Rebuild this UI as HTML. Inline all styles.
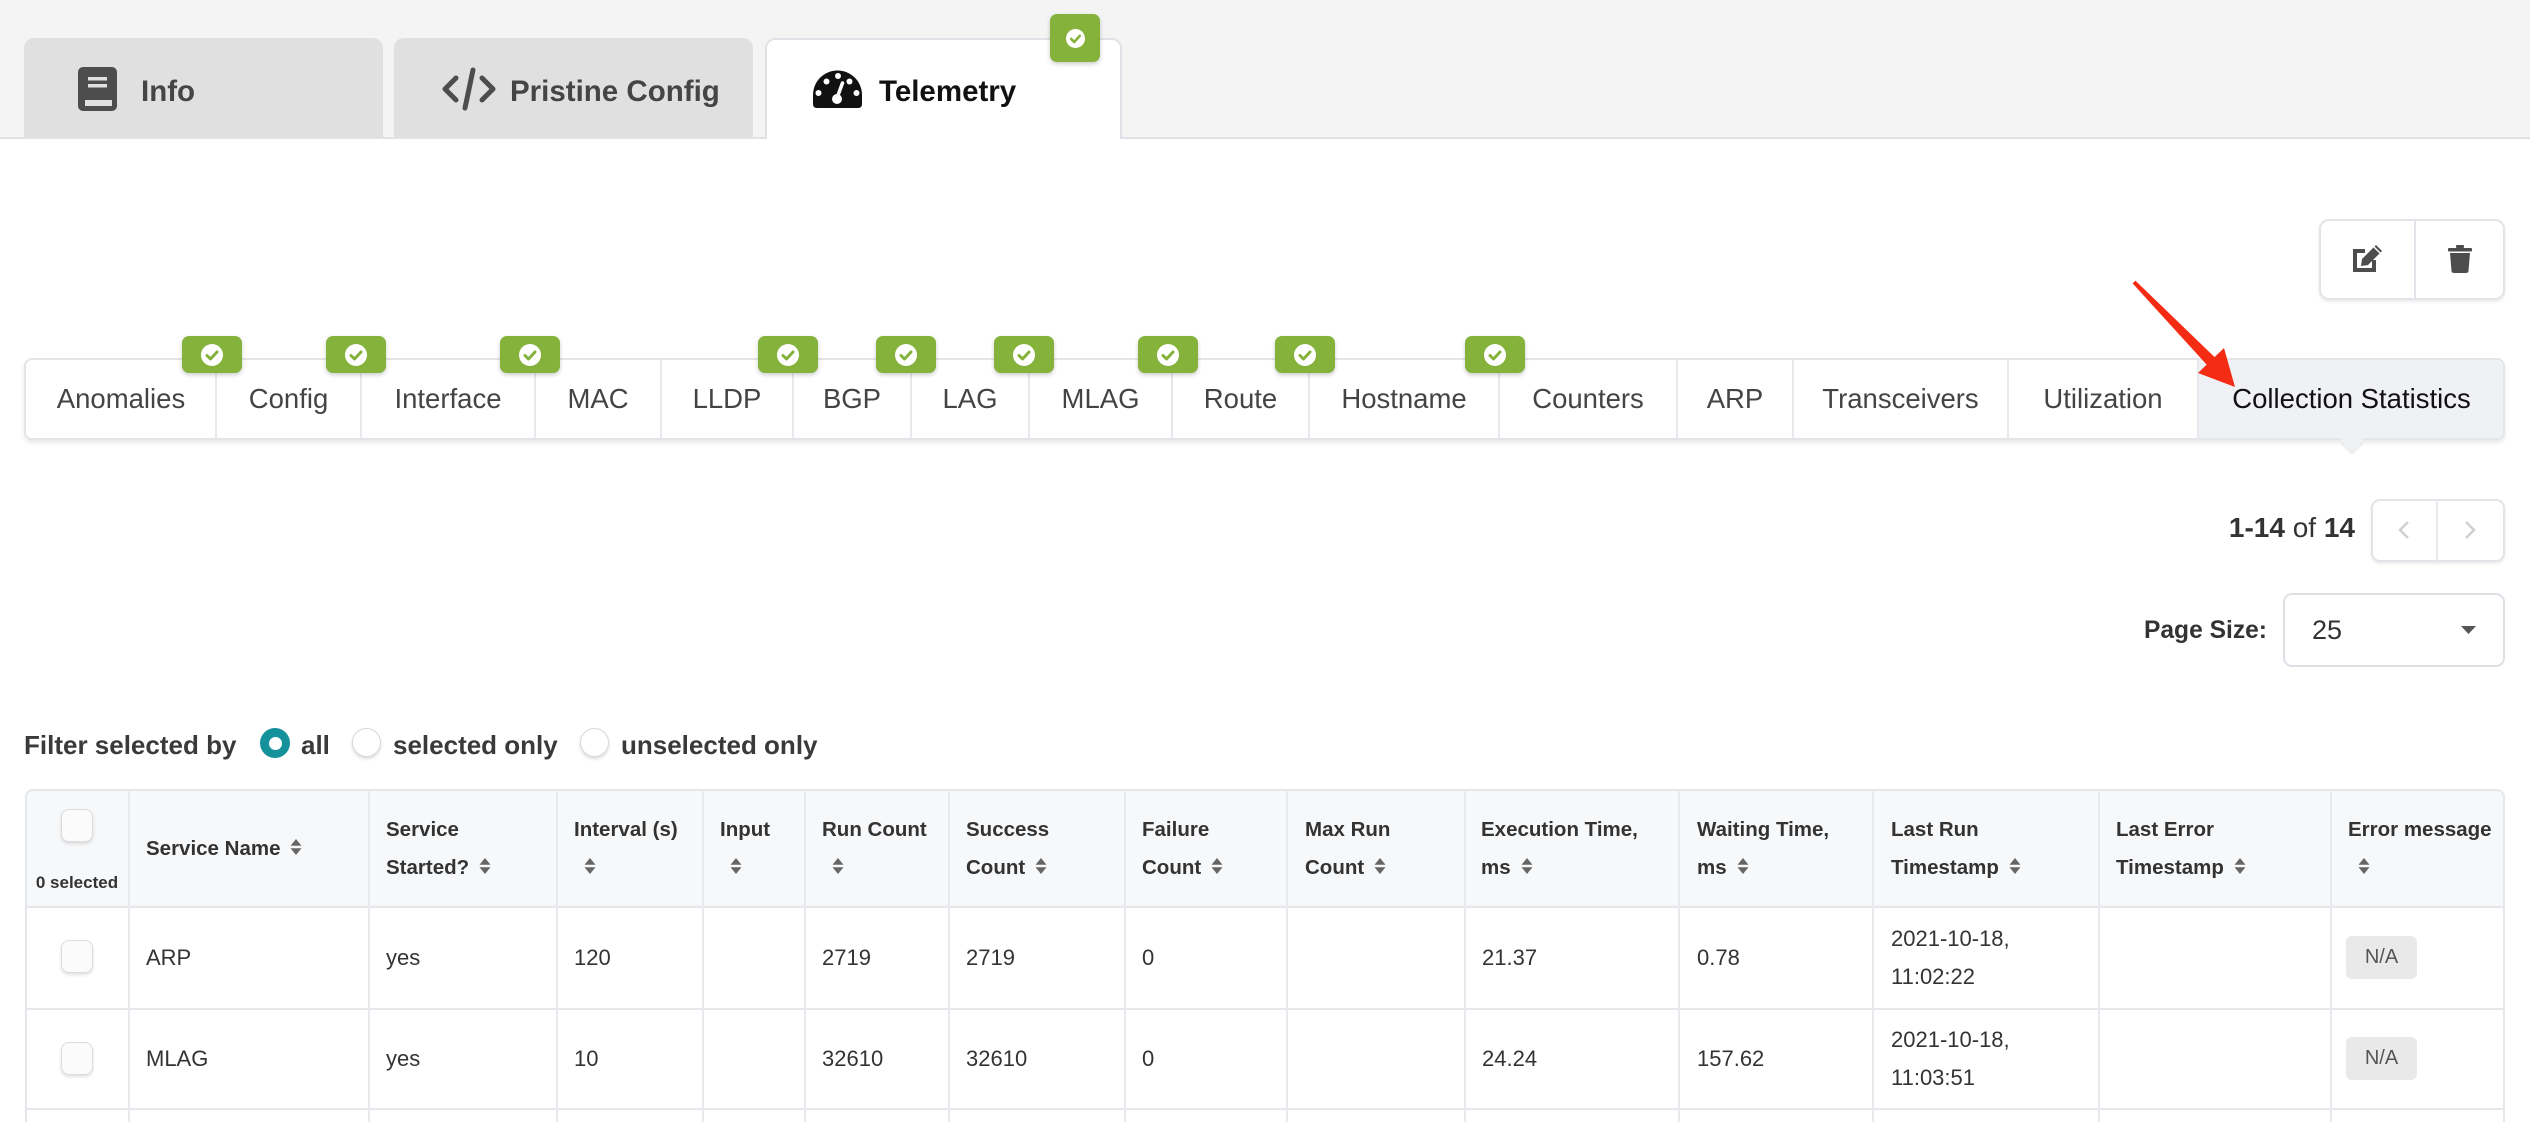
<!DOCTYPE html>
<html><head><meta charset="utf-8">
<style>
*{box-sizing:border-box;margin:0;padding:0}
body{width:2530px;height:1122px;overflow:hidden;background:#fff;position:relative;font-family:"Liberation Sans",Arial,sans-serif;color:#333}
.a{position:absolute}
.t{position:absolute;white-space:nowrap}
.tt{font-size:29.5px;line-height:29.5px;font-weight:bold;top:77px;color:#454545}
.st{position:absolute;top:385px;font-size:27.5px;line-height:27.5px;text-align:center;color:#444;white-space:nowrap}
.dv{position:absolute;top:360px;width:2px;height:79px;background:#e6e8ec}
.bd{position:absolute;top:336px;width:60px;height:37px;background:#85b23a;border-radius:7px;box-shadow:0 2px 4px rgba(0,0,0,.2);z-index:3}
.bd svg{position:absolute;left:19px;top:7.5px}
.cd{position:absolute;top:790px;width:2px;height:332px;background:#e9eaed}
.hl{position:absolute;left:25px;width:2480px;height:2px;background:#e5e7ea}
.h{position:absolute;top:811px;font-size:20.5px;line-height:38px;font-weight:bold;color:#333;white-space:nowrap}
.h svg{margin-left:10px;vertical-align:0}
.c{position:absolute;font-size:22px;line-height:22px;color:#333;white-space:nowrap}
.c2{position:absolute;font-size:22px;line-height:38px;color:#333;white-space:nowrap}
.cb{position:absolute;left:61px;width:32px;height:33px;border:1.5px solid #dcdcdc;border-radius:8px;background:#fbfbfb;box-shadow:0 2px 3px rgba(0,0,0,.12)}
.na{position:absolute;left:2346px;width:71px;height:43px;background:#e9e9e9;border-radius:6px;font-size:20px;line-height:43px;text-align:center;color:#555}
.rd{position:absolute;top:728px;width:29px;height:29px;border-radius:50%;border:1.5px solid #dadada;background:#fff;box-shadow:0 2px 3px rgba(0,0,0,.14)}
.ft{position:absolute;top:732px;font-size:26px;line-height:26px;font-weight:bold;color:#3a3a3a;white-space:nowrap}
</style></head><body>

<!-- top area -->
<div class="a" style="left:0;top:0;width:2530px;height:137px;background:#f4f4f4"></div>
<div class="a" style="left:0;top:137px;width:2530px;height:2px;background:#dfe2e6"></div>

<div class="a" style="left:24px;top:38px;width:359px;height:99px;background:#e0e0e0;border-radius:10px 10px 0 0"></div>
<div class="a" style="left:394px;top:38px;width:359px;height:99px;background:#e0e0e0;border-radius:10px 10px 0 0"></div>
<div class="a" style="left:765px;top:38px;width:357px;height:101px;background:#fff;border:2px solid #dfe2e6;border-bottom:none;border-radius:10px 10px 0 0"></div>

<!-- book icon -->
<svg class="a" style="left:78px;top:67px" width="39" height="44" viewBox="0 0 39 44">
<rect x="0" y="0" width="39" height="44" rx="5" fill="#4d4d4d"/>
<rect x="10" y="10" width="19" height="3.5" fill="#e0e0e0"/>
<rect x="10" y="17" width="19" height="3.5" fill="#e0e0e0"/>
<rect x="7" y="33" width="27" height="6" fill="#e0e0e0"/>
</svg>
<div class="t tt" style="left:141px">Info</div>

<!-- code icon -->
<svg class="a" style="left:442px;top:67px" width="54" height="44" viewBox="0 0 54 44">
<polyline points="14,11 3,22 14,33" stroke="#4d4d4d" stroke-width="5" fill="none" stroke-linecap="round" stroke-linejoin="round"/>
<polyline points="40,11 51,22 40,33" stroke="#4d4d4d" stroke-width="5" fill="none" stroke-linecap="round" stroke-linejoin="round"/>
<line x1="31" y1="3" x2="23" y2="41" stroke="#4d4d4d" stroke-width="5" stroke-linecap="round"/>
</svg>
<div class="t tt" style="left:510px">Pristine Config</div>

<!-- gauge icon -->
<svg class="a" style="left:813px;top:70px" width="49" height="38" viewBox="0 0 49 38">
<path d="M4,38 Q0,38 0,34 L0,25 A24.5,24.5 0 0 1 49,25 L49,34 Q49,38 45,38 Z" fill="#111"/>
<circle cx="5.5" cy="23" r="3" fill="#fff"/>
<circle cx="13.5" cy="11.5" r="3" fill="#fff"/>
<circle cx="25" cy="6" r="3" fill="#fff"/>
<circle cx="36.5" cy="11.5" r="3" fill="#fff"/>
<circle cx="43.5" cy="23" r="3" fill="#fff"/>
<line x1="24" y1="28" x2="29.5" y2="13" stroke="#fff" stroke-width="3.5" stroke-linecap="round"/>
<circle cx="24" cy="29" r="5" fill="#fff"/>
</svg>
<div class="t tt" style="left:879px;color:#111">Telemetry</div>

<div class="a" style="left:1050px;top:14px;width:50px;height:48px;background:#85b23a;border-radius:7px;box-shadow:0 2px 5px rgba(0,0,0,.2)">
<svg style="position:absolute;left:15.5px;top:14.5px" width="19" height="19" viewBox="0 0 22 22"><circle cx="11" cy="11" r="11" fill="#fff"/><path d="M6 11.5l3.5 3.5 6.5-7" stroke="#85b23a" stroke-width="3" fill="none" stroke-linecap="round" stroke-linejoin="round"/></svg>
</div>

<!-- edit/delete -->
<div class="a" style="left:2319px;top:219px;width:186px;height:81px;border:2px solid #e1e4e8;border-radius:10px;background:#fff;box-shadow:0 2px 3px rgba(0,0,0,.08)"></div>
<div class="a" style="left:2414px;top:220px;width:2px;height:79px;background:#e1e4e8"></div>
<svg class="a" style="left:2352px;top:245px" width="32" height="28" viewBox="0 0 32 28">
<path d="M13,6 H3 V25 H22 V15" stroke="#4d4d4d" stroke-width="4" fill="none"/>
<path d="M10,14 L24,0 L30,6 L16,20 L9,21 Z" fill="#4d4d4d"/>
<path d="M22,2 L28,8" stroke="#fff" stroke-width="1.5"/>
</svg>
<svg class="a" style="left:2448px;top:245px" width="24" height="28" viewBox="0 0 24 28">
<rect x="8" y="0" width="8" height="3" rx="1" fill="#4d4d4d"/>
<rect x="0" y="3" width="24" height="3.5" rx="1" fill="#4d4d4d"/>
<path d="M2,8 H22 L20.5,26 Q20.3,28 18,28 H6 Q3.7,28 3.5,26 Z" fill="#4d4d4d"/>
</svg>

<!-- sub-tab bar -->
<div class="a" style="left:24px;top:358px;width:2481px;height:82px;border:2px solid #e3e5e9;border-radius:8px;background:#fff;box-shadow:0 3px 4px rgba(0,0,0,.09)"></div>
<div class="a" style="left:2199px;top:360px;width:304px;height:78px;background:#f0f1f5;border-radius:0 6px 6px 0"></div>
<div class="a" style="left:2344px;top:433px;width:16px;height:16px;background:#f0f1f5;transform:rotate(45deg);box-shadow:2px 2px 2px rgba(0,0,0,.08)"></div>
<div class="a" style="left:2340px;top:430px;width:24px;height:9px;background:#f0f1f5"></div>

<div class="dv" style="left:215px"></div>
<div class="dv" style="left:360px"></div>
<div class="dv" style="left:534px"></div>
<div class="dv" style="left:660px"></div>
<div class="dv" style="left:792px"></div>
<div class="dv" style="left:910px"></div>
<div class="dv" style="left:1028px"></div>
<div class="dv" style="left:1171px"></div>
<div class="dv" style="left:1308px"></div>
<div class="dv" style="left:1498px"></div>
<div class="dv" style="left:1676px"></div>
<div class="dv" style="left:1792px"></div>
<div class="dv" style="left:2007px"></div>
<div class="dv" style="left:2197px"></div>

<div class="st" style="left:26px;width:190px">Anomalies</div>
<div class="st" style="left:216px;width:145px">Config</div>
<div class="st" style="left:361px;width:174px">Interface</div>
<div class="st" style="left:535px;width:126px">MAC</div>
<div class="st" style="left:661px;width:132px">LLDP</div>
<div class="st" style="left:793px;width:118px">BGP</div>
<div class="st" style="left:911px;width:118px">LAG</div>
<div class="st" style="left:1029px;width:143px">MLAG</div>
<div class="st" style="left:1172px;width:137px">Route</div>
<div class="st" style="left:1309px;width:190px">Hostname</div>
<div class="st" style="left:1499px;width:178px">Counters</div>
<div class="st" style="left:1677px;width:116px">ARP</div>
<div class="st" style="left:1793px;width:215px">Transceivers</div>
<div class="st" style="left:2008px;width:190px">Utilization</div>
<div class="st" style="left:2198px;width:307px;color:#111">Collection Statistics</div>

<div class="bd" style="left:182px"><svg width="22" height="22" viewBox="0 0 22 22"><circle cx="11" cy="11" r="11" fill="#fff"/><path d="M6 11.5l3.5 3.5 6.5-7" stroke="#85b23a" stroke-width="3" fill="none" stroke-linecap="round" stroke-linejoin="round"/></svg></div>
<div class="bd" style="left:326px"><svg width="22" height="22" viewBox="0 0 22 22"><circle cx="11" cy="11" r="11" fill="#fff"/><path d="M6 11.5l3.5 3.5 6.5-7" stroke="#85b23a" stroke-width="3" fill="none" stroke-linecap="round" stroke-linejoin="round"/></svg></div>
<div class="bd" style="left:500px"><svg width="22" height="22" viewBox="0 0 22 22"><circle cx="11" cy="11" r="11" fill="#fff"/><path d="M6 11.5l3.5 3.5 6.5-7" stroke="#85b23a" stroke-width="3" fill="none" stroke-linecap="round" stroke-linejoin="round"/></svg></div>
<div class="bd" style="left:758px"><svg width="22" height="22" viewBox="0 0 22 22"><circle cx="11" cy="11" r="11" fill="#fff"/><path d="M6 11.5l3.5 3.5 6.5-7" stroke="#85b23a" stroke-width="3" fill="none" stroke-linecap="round" stroke-linejoin="round"/></svg></div>
<div class="bd" style="left:876px"><svg width="22" height="22" viewBox="0 0 22 22"><circle cx="11" cy="11" r="11" fill="#fff"/><path d="M6 11.5l3.5 3.5 6.5-7" stroke="#85b23a" stroke-width="3" fill="none" stroke-linecap="round" stroke-linejoin="round"/></svg></div>
<div class="bd" style="left:994px"><svg width="22" height="22" viewBox="0 0 22 22"><circle cx="11" cy="11" r="11" fill="#fff"/><path d="M6 11.5l3.5 3.5 6.5-7" stroke="#85b23a" stroke-width="3" fill="none" stroke-linecap="round" stroke-linejoin="round"/></svg></div>
<div class="bd" style="left:1138px"><svg width="22" height="22" viewBox="0 0 22 22"><circle cx="11" cy="11" r="11" fill="#fff"/><path d="M6 11.5l3.5 3.5 6.5-7" stroke="#85b23a" stroke-width="3" fill="none" stroke-linecap="round" stroke-linejoin="round"/></svg></div>
<div class="bd" style="left:1275px"><svg width="22" height="22" viewBox="0 0 22 22"><circle cx="11" cy="11" r="11" fill="#fff"/><path d="M6 11.5l3.5 3.5 6.5-7" stroke="#85b23a" stroke-width="3" fill="none" stroke-linecap="round" stroke-linejoin="round"/></svg></div>
<div class="bd" style="left:1465px"><svg width="22" height="22" viewBox="0 0 22 22"><circle cx="11" cy="11" r="11" fill="#fff"/><path d="M6 11.5l3.5 3.5 6.5-7" stroke="#85b23a" stroke-width="3" fill="none" stroke-linecap="round" stroke-linejoin="round"/></svg></div>

<!-- red arrow -->
<svg class="a" style="left:0;top:0;z-index:5" width="2530" height="500" viewBox="0 0 2530 500">
<polygon points="2132.6,283.4 2135.4,280.6 2215,357.5 2207,365" fill="#f52c14"/>
<polygon points="2235,387 2198,373 2224,348" fill="#f52c14"/>
</svg>

<!-- pager -->
<div class="t" style="right:175px;top:514px;font-size:28px;line-height:28px;color:#333"><b>1-14</b> of <b>14</b></div>
<div class="a" style="left:2371px;top:499px;width:134px;height:63px;border:2px solid #e1e4e8;border-radius:9px;background:#fff;box-shadow:0 2px 3px rgba(0,0,0,.08)"></div>
<div class="a" style="left:2436px;top:500px;width:2px;height:61px;background:#e6e8ec"></div>
<svg class="a" style="left:2398px;top:520px" width="12" height="20" viewBox="0 0 12 20"><polyline points="10,2 2,10 10,18" stroke="#d0d0d0" stroke-width="2.5" fill="none"/></svg>
<svg class="a" style="left:2464px;top:520px" width="12" height="20" viewBox="0 0 12 20"><polyline points="2,2 10,10 2,18" stroke="#d0d0d0" stroke-width="2.5" fill="none"/></svg>

<div class="t" style="right:263px;top:619px;font-size:24.6px;line-height:24.6px;font-weight:bold;color:#333">Page Size:</div>
<div class="a" style="left:2283px;top:593px;width:222px;height:74px;border:2px solid #dde1e6;border-radius:9px;background:#fff"></div>
<div class="t" style="left:2312px;top:617px;font-size:27px;line-height:27px;color:#333">25</div>
<svg class="a" style="left:2461px;top:626px" width="15" height="8" viewBox="0 0 15 8"><path d="M0 0H15L7.5 8Z" fill="#555"/></svg>

<!-- filter -->
<div class="ft" style="left:24px">Filter selected by</div>
<div class="a" style="left:260px;top:728px;width:30px;height:30px;border-radius:50%;background:#14919b"></div>
<div class="a" style="left:268.5px;top:736.5px;width:13px;height:13px;border-radius:50%;background:#fff"></div>
<div class="ft" style="left:301px">all</div>
<div class="rd" style="left:352px"></div>
<div class="ft" style="left:393px">selected only</div>
<div class="rd" style="left:580px"></div>
<div class="ft" style="left:621px">unselected only</div>

<!-- table -->
<div class="a" style="left:25px;top:789px;width:2480px;height:119px;background:#f7f8fa;border:2px solid #e4e6ea;border-bottom:none;border-radius:8px 8px 0 0"></div>
<div class="a" style="left:25px;top:900px;width:2px;height:222px;background:#e4e6ea"></div>
<div class="a" style="left:2503px;top:900px;width:2px;height:222px;background:#e4e6ea"></div>
<div class="hl" style="top:906px"></div>
<div class="hl" style="top:1008px"></div>
<div class="hl" style="top:1108px"></div>

<div class="cd" style="left:128px"></div>
<div class="cd" style="left:368px"></div>
<div class="cd" style="left:556px"></div>
<div class="cd" style="left:702px"></div>
<div class="cd" style="left:804px"></div>
<div class="cd" style="left:948px"></div>
<div class="cd" style="left:1124px"></div>
<div class="cd" style="left:1286px"></div>
<div class="cd" style="left:1464px"></div>
<div class="cd" style="left:1678px"></div>
<div class="cd" style="left:1872px"></div>
<div class="cd" style="left:2098px"></div>
<div class="cd" style="left:2330px"></div>

<!-- header -->
<div class="cb" style="top:809px"></div>
<div class="t" style="left:27px;width:100px;text-align:center;top:874px;font-size:17px;line-height:17px;font-weight:bold;color:#333">0 selected</div>

<div class="h" style="left:146px;top:830px">Service Name<svg width="12" height="16" viewBox="0 0 12 16"><path d="M6 0L11.5 6.8H0.5Z M6 16L11.5 9.2H0.5Z" fill="#666"/></svg></div>
<div class="h" style="left:386px">Service<br>Started?<svg width="12" height="16" viewBox="0 0 12 16"><path d="M6 0L11.5 6.8H0.5Z M6 16L11.5 9.2H0.5Z" fill="#666"/></svg></div>
<div class="h" style="left:574px">Interval (s)<br><svg width="12" height="16" viewBox="0 0 12 16"><path d="M6 0L11.5 6.8H0.5Z M6 16L11.5 9.2H0.5Z" fill="#666"/></svg></div>
<div class="h" style="left:720px">Input<br><svg width="12" height="16" viewBox="0 0 12 16"><path d="M6 0L11.5 6.8H0.5Z M6 16L11.5 9.2H0.5Z" fill="#666"/></svg></div>
<div class="h" style="left:822px">Run Count<br><svg width="12" height="16" viewBox="0 0 12 16"><path d="M6 0L11.5 6.8H0.5Z M6 16L11.5 9.2H0.5Z" fill="#666"/></svg></div>
<div class="h" style="left:966px">Success<br>Count<svg width="12" height="16" viewBox="0 0 12 16"><path d="M6 0L11.5 6.8H0.5Z M6 16L11.5 9.2H0.5Z" fill="#666"/></svg></div>
<div class="h" style="left:1142px">Failure<br>Count<svg width="12" height="16" viewBox="0 0 12 16"><path d="M6 0L11.5 6.8H0.5Z M6 16L11.5 9.2H0.5Z" fill="#666"/></svg></div>
<div class="h" style="left:1305px">Max Run<br>Count<svg width="12" height="16" viewBox="0 0 12 16"><path d="M6 0L11.5 6.8H0.5Z M6 16L11.5 9.2H0.5Z" fill="#666"/></svg></div>
<div class="h" style="left:1481px">Execution Time,<br>ms<svg width="12" height="16" viewBox="0 0 12 16"><path d="M6 0L11.5 6.8H0.5Z M6 16L11.5 9.2H0.5Z" fill="#666"/></svg></div>
<div class="h" style="left:1697px">Waiting Time,<br>ms<svg width="12" height="16" viewBox="0 0 12 16"><path d="M6 0L11.5 6.8H0.5Z M6 16L11.5 9.2H0.5Z" fill="#666"/></svg></div>
<div class="h" style="left:1891px">Last Run<br>Timestamp<svg width="12" height="16" viewBox="0 0 12 16"><path d="M6 0L11.5 6.8H0.5Z M6 16L11.5 9.2H0.5Z" fill="#666"/></svg></div>
<div class="h" style="left:2116px">Last Error<br>Timestamp<svg width="12" height="16" viewBox="0 0 12 16"><path d="M6 0L11.5 6.8H0.5Z M6 16L11.5 9.2H0.5Z" fill="#666"/></svg></div>
<div class="h" style="left:2348px">Error message<br><svg width="12" height="16" viewBox="0 0 12 16"><path d="M6 0L11.5 6.8H0.5Z M6 16L11.5 9.2H0.5Z" fill="#666"/></svg></div>

<!-- row 1 -->
<div class="cb" style="top:940px"></div>
<div class="c" style="left:146px;top:947px">ARP</div>
<div class="c" style="left:386px;top:947px">yes</div>
<div class="c" style="left:574px;top:947px">120</div>
<div class="c" style="left:822px;top:947px">2719</div>
<div class="c" style="left:966px;top:947px">2719</div>
<div class="c" style="left:1142px;top:947px">0</div>
<div class="c" style="left:1482px;top:947px">21.37</div>
<div class="c" style="left:1697px;top:947px">0.78</div>
<div class="c2" style="left:1891px;top:920px">2021-10-18,<br>11:02:22</div>
<div class="na" style="top:936px">N/A</div>

<!-- row 2 -->
<div class="cb" style="top:1042px"></div>
<div class="c" style="left:146px;top:1048px">MLAG</div>
<div class="c" style="left:386px;top:1048px">yes</div>
<div class="c" style="left:574px;top:1048px">10</div>
<div class="c" style="left:822px;top:1048px">32610</div>
<div class="c" style="left:966px;top:1048px">32610</div>
<div class="c" style="left:1142px;top:1048px">0</div>
<div class="c" style="left:1482px;top:1048px">24.24</div>
<div class="c" style="left:1697px;top:1048px">157.62</div>
<div class="c2" style="left:1891px;top:1021px">2021-10-18,<br>11:03:51</div>
<div class="na" style="top:1037px">N/A</div>

</body></html>
